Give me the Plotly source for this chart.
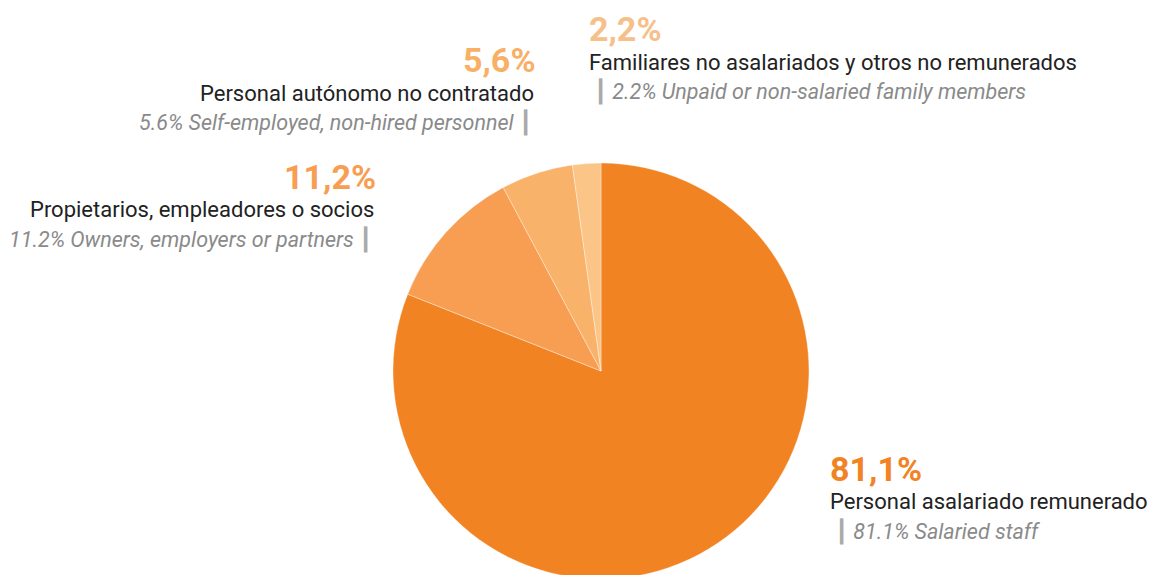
import plotly.graph_objects as go

# data
labels_es = [
    "Personal asalariado remunerado",
    "Propietarios, empleadores o socios",
    "Personal autónomo no contratado",
    "Familiares no asalariados y otros no remunerados",
]
labels_en = [
    "Salaried staff",
    "Owners, employers or partners",
    "Self-employed, non-hired personnel",
    "Unpaid or non-salaried family members",
]
values = [81.1, 11.2, 5.6, 2.2]
slice_colors = ["#F28322", "#F79E52", "#F9B26A", "#FBC588"]
pct_colors = ["#F28322", "#F79E52", "#F8B066", "#F6C08A"]

W, H = 1161, 575
OFF = 8  # page body margin
PAD = 3  # annotation box padding
FONT = "Roboto"
DARK = "#222222"
GREY = "#8a8a8a"
BAR = "#aaaaaa"


def px(x):
    return (x - OFF) / W


def py(y):
    return 1 - (y - OFF) / H


# pie centre (601, 371) on screen, radius 208
fig = go.Figure(go.Pie(
    labels=labels_es,
    values=values,
    sort=False,
    direction="clockwise",
    rotation=0,
    marker=dict(colors=slice_colors, line=dict(color="rgba(255,255,255,0.6)", width=0.6)),
    textinfo="none",
    hoverinfo="label+percent",
    showlegend=False,
    domain=dict(x=[px(393), px(809)], y=[py(579), py(163)]),
))

# label blocks: (anchor x, side, centre y of the percent line, x of the english line)
blocks = [
    (831, "left", 469, 836),   # 81.1
    (375, "right", 177, 371),  # 11.2
    (535, "right", 60, 531),   # 5.6
    (590, "left", 29, 595),    # 2.2
]

for i, (x0, side, y0, xe) in enumerate(blocks):
    pct = f"{values[i]:.1f}".replace(".", ",") + "%"
    en = f"{values[i]:.1f}% {labels_en[i]}"
    bar = f"<span style='color:{BAR}'>┃</span>"
    if side == "left":
        en_txt = f"{bar} <i>{en}</i>"
        d = -PAD
    else:
        en_txt = f"<i>{en}</i> {bar}"
        d = PAD
    fig.add_annotation(x=px(x0 + d), y=py(y0), xref="paper", yref="paper",
                       xanchor=side, yanchor="middle", showarrow=False,
                       text=f"<b>{pct}</b>",
                       font=dict(family=FONT, size=34, color=pct_colors[i]))
    fig.add_annotation(x=px((x0 - 2 if side == "right" else x0) + d), y=py(y0 + 33),
                       xref="paper", yref="paper",
                       xanchor=side, yanchor="middle", showarrow=False,
                       text=labels_es[i],
                       font=dict(family=FONT, size=22, color=DARK))
    fig.add_annotation(x=px(xe + d), y=py(y0 + 62), xref="paper", yref="paper",
                       xanchor=side, yanchor="middle", showarrow=False,
                       text=en_txt,
                       font=dict(family=FONT, size=21.5, color=GREY))

fig.update_layout(
    width=W, height=H,
    margin=dict(l=0, r=0, t=0, b=0),
    paper_bgcolor="white",
    plot_bgcolor="white",
)

fig.write_html("out.html")
